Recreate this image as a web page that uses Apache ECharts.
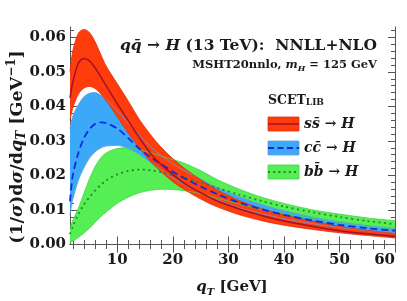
<!DOCTYPE html>
<html>
<head>
<meta charset="utf-8">
<script src="https://cdn.jsdelivr.net/npm/echarts@6/dist/echarts.min.js"></script>
<style>
html,body{margin:0;padding:0;background:#fff;}
#c{width:407px;height:301px;}
</style>
</head>
<body>
<div id="c"></div>
<script>
// ---- data ----
const qT   = [1.5, 2, 3, 4, 5, 6, 7, 8, 10, 12, 14, 16, 18, 20, 22, 25, 28, 32, 36, 40, 45, 50, 55, 60];
// s sbar -> H
const ssC  = [0.0425, 0.0470, 0.0525, 0.0539, 0.0532, 0.0512, 0.0487, 0.0460, 0.0408, 0.0358, 0.0309, 0.0264, 0.0230, 0.0203, 0.0178, 0.0150, 0.0126, 0.0103, 0.0084, 0.0068, 0.0053, 0.0040, 0.0031, 0.0024];
const ssHi = [0.0500, 0.0560, 0.0612, 0.0623, 0.0614, 0.0588, 0.0552, 0.0517, 0.0466, 0.0415, 0.0362, 0.0318, 0.0280, 0.0249, 0.0222, 0.0188, 0.0158, 0.0127, 0.0104, 0.0086, 0.0068, 0.0053, 0.0041, 0.0032];
const ssLo = [0.0360, 0.0395, 0.0435, 0.0453, 0.0458, 0.0452, 0.0437, 0.0417, 0.0370, 0.0322, 0.0280, 0.0240, 0.0209, 0.0182, 0.0160, 0.0132, 0.0109, 0.0086, 0.0069, 0.0056, 0.0044, 0.0034, 0.0026, 0.0019];
// c cbar -> H
const ccC  = [0.0125, 0.0200, 0.0265, 0.0308, 0.0334, 0.0349, 0.0354, 0.0352, 0.0336, 0.0308, 0.0277, 0.0253, 0.0232, 0.0211, 0.0193, 0.0168, 0.0146, 0.0121, 0.0102, 0.0086, 0.0070, 0.0057, 0.0047, 0.0040];
const ccHi = [0.0335, 0.0372, 0.0405, 0.0428, 0.0438, 0.0440, 0.0433, 0.0420, 0.0387, 0.0352, 0.0315, 0.0283, 0.0257, 0.0234, 0.0215, 0.0190, 0.0165, 0.0138, 0.0116, 0.0098, 0.0080, 0.0066, 0.0055, 0.0046];
const ccLo = [0.0085, 0.0130, 0.0185, 0.0222, 0.0250, 0.0268, 0.0279, 0.0285, 0.0287, 0.0278, 0.0260, 0.0238, 0.0214, 0.0193, 0.0174, 0.0150, 0.0129, 0.0106, 0.0089, 0.0075, 0.0061, 0.0049, 0.0040, 0.0033];
// b bbar -> H
const bbC  = [0.0030, 0.0052, 0.0088, 0.0115, 0.0137, 0.0156, 0.0172, 0.0186, 0.0203, 0.0213, 0.0217, 0.0215, 0.0209, 0.0201, 0.0193, 0.0179, 0.0164, 0.0144, 0.0126, 0.0110, 0.0094, 0.0080, 0.0068, 0.0059];
const bbHi = [0.0045, 0.0070, 0.0105, 0.0148, 0.0190, 0.0225, 0.0250, 0.0265, 0.0278, 0.0280, 0.0275, 0.0266, 0.0256, 0.0246, 0.0236, 0.0214, 0.0188, 0.0160, 0.0137, 0.0119, 0.0101, 0.0088, 0.0077, 0.0069];
const bbLo = [0.0005, 0.0010, 0.0020, 0.0033, 0.0047, 0.0064, 0.0080, 0.0094, 0.0119, 0.0137, 0.0150, 0.0157, 0.0160, 0.0159, 0.0156, 0.0147, 0.0134, 0.0117, 0.0102, 0.0090, 0.0076, 0.0064, 0.0053, 0.0045];

// ticks
const xMajor = [10, 20, 30, 40, 50, 60];
const xMinor = [2, 4, 6, 8, 12, 14, 16, 18, 22, 24, 26, 28, 32, 34, 36, 38, 42, 44, 46, 48, 52, 54, 56, 58];
const yMajor = [0, 0.01, 0.02, 0.03, 0.04, 0.05, 0.06];
const yMinor = [0.002, 0.004, 0.006, 0.008, 0.012, 0.014, 0.016, 0.018, 0.022, 0.024, 0.026, 0.028,
                0.032, 0.034, 0.036, 0.038, 0.042, 0.044, 0.046, 0.048, 0.052, 0.054, 0.056, 0.058, 0.062];

// ---- styling ----
const F = 'DejaVu Serif';
const INK = '#1a1a1a';
const AX = '#555555';
const X_MIN = 1.5, X_MAX = 60, Y_MIN = 0, Y_MAX = 0.063;
const GRID = {left: 70, top: 27, width: 325, height: 217.5};
const COL = {
  ssFill: '#ff3c0c', ssEdge: '#e0300a', ssLine: '#a3102c',
  ccFill: '#3ca8f8', ccEdge: '#6aa0d0', ccLine: '#0c2ae6',
  bbFill: '#55ef55', bbEdge: '#44d444', bbLine: '#22882a'
};

// rows are [value, qT] so that the stacked dimension is the value (y) one
const rowsVY = (ys) => qT.map((x, i) => [ys[i], x]);
const rowsDiff = (hi, lo) => qT.map((x, i) => [hi[i] - lo[i], x]);
const pairs = (ys) => qT.map((x, i) => [x, ys[i]]);
const SM = 0.3;

function band(name, hi, lo, fill) {
  const common = {type: 'line', stack: name, smooth: SM, showSymbol: false, symbol: 'none',
                  dimensions: ['v', 'q'], encode: {x: 'q', y: 'v'}, silent: true, z: 2};
  return [
    Object.assign({}, common, {name: name + '_lo', data: rowsVY(lo), lineStyle: {width: 0, opacity: 0}}),
    Object.assign({}, common, {name: name + '_band', data: rowsDiff(hi, lo), lineStyle: {width: 0, opacity: 0},
                               areaStyle: {color: fill, opacity: 1}})
  ];
}
function edge(ys, color) {
  return {type: 'line', data: pairs(ys), smooth: SM, symbol: 'none', showSymbol: false,
          lineStyle: {width: 0.8, color: color}, silent: true, z: 3};
}
function central(ys, color, type, width) {
  return {type: 'line', data: pairs(ys), smooth: SM, symbol: 'none', showSymbol: false,
          lineStyle: {width: width, color: color, type: type, cap: 'butt'}, silent: true, z: 4};
}

const series = [].concat(
  band('bb', bbHi, bbLo, COL.bbFill),
  band('cc', ccHi, ccLo, COL.ccFill),
  band('ss', ssHi, ssLo, COL.ssFill),
  [edge(bbHi, COL.bbEdge), edge(bbLo, COL.bbEdge),
   edge(ccHi, COL.ccEdge), edge(ccLo, COL.ccEdge),
   edge(ssHi, COL.ssEdge), edge(ssLo, COL.ssEdge),
   central(bbC, COL.bbLine, [2, 3.5], 1.8),
   central(ccC, COL.ccLine, [7, 4], 1.8),
   central(ssC, COL.ssLine, 'solid', 1.5)]
);

const labelFont = {fontFamily: F, fontWeight: 'bold', fontSize: 15, color: INK};

function xAx(grid, pos, ticks, len, labels) {
  return {
    type: 'value', gridIndex: grid, position: pos, min: X_MIN, max: X_MAX,
    axisLine: {show: grid === 0, lineStyle: {color: AX, width: 1}},
    axisTick: {show: true, inside: true, length: len, customValues: ticks, lineStyle: {color: AX, width: 1}},
    axisLabel: labels ? Object.assign({show: true, customValues: xMajor, margin: 8, alignMaxLabel: 'right'}, labelFont)
                      : {show: false},
    splitLine: {show: false}, minorTick: {show: false}
  };
}
function yAx(grid, pos, ticks, len, labels) {
  return {
    type: 'value', gridIndex: grid, position: pos, min: Y_MIN, max: Y_MAX,
    axisLine: {show: grid === 0, lineStyle: {color: AX, width: 1}},
    axisTick: {show: true, inside: true, length: len, customValues: ticks, lineStyle: {color: AX, width: 1}},
    axisLabel: labels ? Object.assign({show: true, customValues: yMajor, margin: 4,
                          formatter: (v) => v.toFixed(2)}, labelFont)
                      : {show: false},
    splitLine: {show: false}, minorTick: {show: false}
  };
}

const RICH = (fs) => ({
  n:   {fontFamily: F, fontWeight: 'bold', fontSize: fs, lineHeight: fs + 5, verticalAlign: 'middle', fill: INK},
  i:   {fontFamily: F, fontWeight: 'bold', fontStyle: 'italic', fontSize: fs, lineHeight: fs + 5, verticalAlign: 'middle', fill: INK},
  sub: {fontFamily: F, fontWeight: 'bold', fontStyle: 'italic', fontSize: Math.round(fs * 0.68), lineHeight: Math.round(fs * 0.68), verticalAlign: 'bottom', fill: INK},
  sup: {fontFamily: F, fontWeight: 'bold', fontSize: Math.round(fs * 0.68), lineHeight: Math.round(fs * 0.68), verticalAlign: 'top', fill: INK}
});

function txt(x, y, text, fs, align, rot) {
  return {type: 'text', x: x, y: y, rotation: rot || 0, silent: true, z: 10,
          style: {text: text, rich: RICH(fs), align: align, verticalAlign: 'middle', fill: INK,
                  fontFamily: F, fontWeight: 'bold', fontSize: fs}};
}

const legendItems = [
  {y: 117, fill: COL.ssFill, edge: COL.ssEdge, line: COL.ssLine, dash: 'solid', w: 1.5, label: '{i|s}{i|s̄}{n| → }{i|H}'},
  {y: 141, fill: COL.ccFill, edge: COL.ccEdge, line: COL.ccLine, dash: [6, 3.5], w: 1.8, label: '{i|c}{i|c̄}{n| → }{i|H}'},
  {y: 165, fill: COL.bbFill, edge: COL.bbEdge, line: COL.bbLine, dash: [2, 3.2], w: 1.8, label: '{i|b}{i|b̄}{n| → }{i|H}'}
];

const graphic = [
  txt(377, 46, '{i|q}{i|q̄}{n| → }{i|H}{n| (13 TeV):  NNLL+NLO}', 15.5, 'right'),
  txt(377, 65, '{n|MSHT20nnlo, }{i|m}{sub|H}{n| = 125 GeV}', 11.5, 'right'),
  {type: 'text', x: 268, y: 100, silent: true, z: 10,
   style: {text: '{a|SCET}{b|LIB}', align: 'left', verticalAlign: 'middle', fill: INK,
           rich: {a: {fontFamily: F, fontWeight: 'bold', fontSize: 12.5, lineHeight: 15, verticalAlign: 'bottom', fill: INK},
                  b: {fontFamily: F, fontWeight: 'bold', fontSize: 9, lineHeight: 12.4, verticalAlign: 'bottom', fill: INK}}}},
  txt(17, 147, '{n|(1/}{i|σ}{n|)d}{i|σ}{n|/d}{i|q}{sub|T}{n| [GeV}{sup|−1}{n|]}', 17.5, 'center', Math.PI / 2),
  txt(232, 287, '{i|q}{sub|T}{n| [GeV]}', 15, 'center')
];
legendItems.forEach((it) => {
  graphic.push({type: 'rect', shape: {x: 268, y: it.y, width: 31, height: 14}, silent: true, z: 10,
                style: {fill: it.fill, stroke: it.edge, lineWidth: 0.8}});
  graphic.push({type: 'line', shape: {x1: 268, y1: it.y + 7, x2: 299, y2: it.y + 7}, silent: true, z: 11,
                style: {stroke: it.line, lineWidth: it.w, lineDash: it.dash === 'solid' ? null : it.dash}});
  graphic.push(txt(304, it.y + 7, it.label, 14, 'left'));
});

const chart = echarts.init(document.getElementById('c'), null, {renderer: 'canvas'});
chart.setOption({
  animation: false,
  backgroundColor: '#ffffff',
  grid: [Object.assign({}, GRID), Object.assign({}, GRID)],
  xAxis: [
    xAx(0, 'bottom', xMajor, 8, true),
    xAx(0, 'top', xMajor, 8, false),
    xAx(1, 'bottom', xMinor, 4.5, false),
    xAx(1, 'top', xMinor, 4.5, false)
  ],
  yAxis: [
    yAx(0, 'left', yMajor, 7, true),
    yAx(0, 'right', yMajor, 7, false),
    yAx(1, 'left', yMinor, 4, false),
    yAx(1, 'right', yMinor, 4, false)
  ],
  series: series,
  graphic: graphic
});
</script>
</body>
</html>
